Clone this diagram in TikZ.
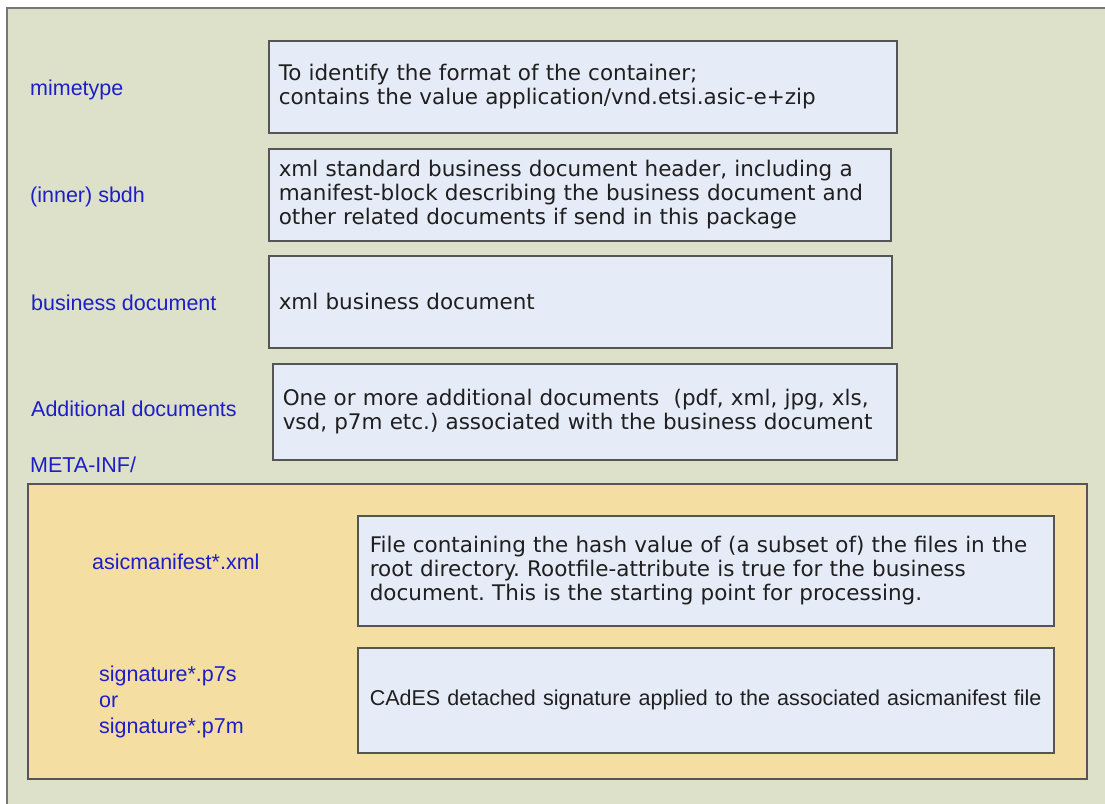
\documentclass[tikz,border=0pt]{standalone}
\usepackage{fontspec}
\setmainfont{DejaVu Sans}
\newfontfamily\arialfont{Liberation Sans}
\frenchspacing
\definecolor{bgpanel}{RGB}{221,225,202}
\definecolor{metapanel}{RGB}{245,222,161}
\definecolor{boxfill}{RGB}{230,236,247}
\definecolor{labelblue}{RGB}{30,30,200}
\definecolor{edgegray}{RGB}{85,85,85}

\begin{document}
\begin{tikzpicture}[x=1pt, y=-1pt,
		descbox/.style={draw=edgegray, line width=1.5pt, fill=boxfill, anchor=north west, align=left, inner xsep=10pt, text=black!88, font=\fontsize{21.5}{24}\selectfont},
		itemlabel/.style={anchor=base west, inner sep=0pt, text=labelblue, font=\arialfont\fontsize{21.5}{26}\selectfont}]
		\useasboundingbox (0,0) rectangle (1105,803);
		\draw[draw=edgegray!80, line width=1.5pt, fill=bgpanel] (7,8) rectangle (1120,820);
		\draw[draw=edgegray, line width=1.5pt, fill=metapanel] (28,484) rectangle (1087,779);

		\node[itemlabel] (MT) at (30, 95) {mimetype};
		\node[itemlabel] (SB) at (30, 202) {(inner) sbdh};
		\node[itemlabel] (BD) at (31, 310) {business document};
		\node[itemlabel] (AD) at (31, 416) {Additional documents};
		\node[itemlabel] (MI) at (30, 472) {META-INF/};
		\node[itemlabel] (AM) at (92, 569) {asicmanifest*.xml};
		\node[itemlabel, anchor=west, align=left] (SG) at (99, 702) {signature*.p7s\\or\\signature*.p7m};

		\node[descbox, minimum width=628pt, minimum height=92pt, text width=608pt] (MTbox) at (268, 40) {To identify the format of the container;\\contains the value application/vnd.etsi.asic-e+zip};
		\node[descbox, minimum width=622pt, minimum height=92pt, text width=602pt] (SBbox) at (268, 148) {xml standard business document header, including a\\manifest-block describing the business document and\\other related documents if send in this package};
		\node[descbox, minimum width=623pt, minimum height=92pt, text width=603pt] (BDbox) at (268, 255) {xml business document};
		\node[descbox, minimum width=624pt, minimum height=96pt, text width=604pt] (ADbox) at (272, 363) {One or more additional documents~ (pdf, xml, jpg, xls,\\vsd, p7m etc.) associated with the business document};
		\node[descbox, minimum width=696pt, minimum height=110pt, text width=672pt, inner xsep=12pt] (AMbox) at (357, 515) {File containing the hash value of (a subset of) the files in the\\root directory. Rootfile-attribute is true for the business\\document. This is the starting point for processing.};
		\node[descbox, minimum width=696pt, minimum height=105pt, text width=672pt, inner xsep=12pt, font=\arialfont\fontsize{21.5}{24}\selectfont] (SGbox) at (357, 647) {CAdES detached signature applied to the associated asicmanifest file};

	\end{tikzpicture}
\end{document}
